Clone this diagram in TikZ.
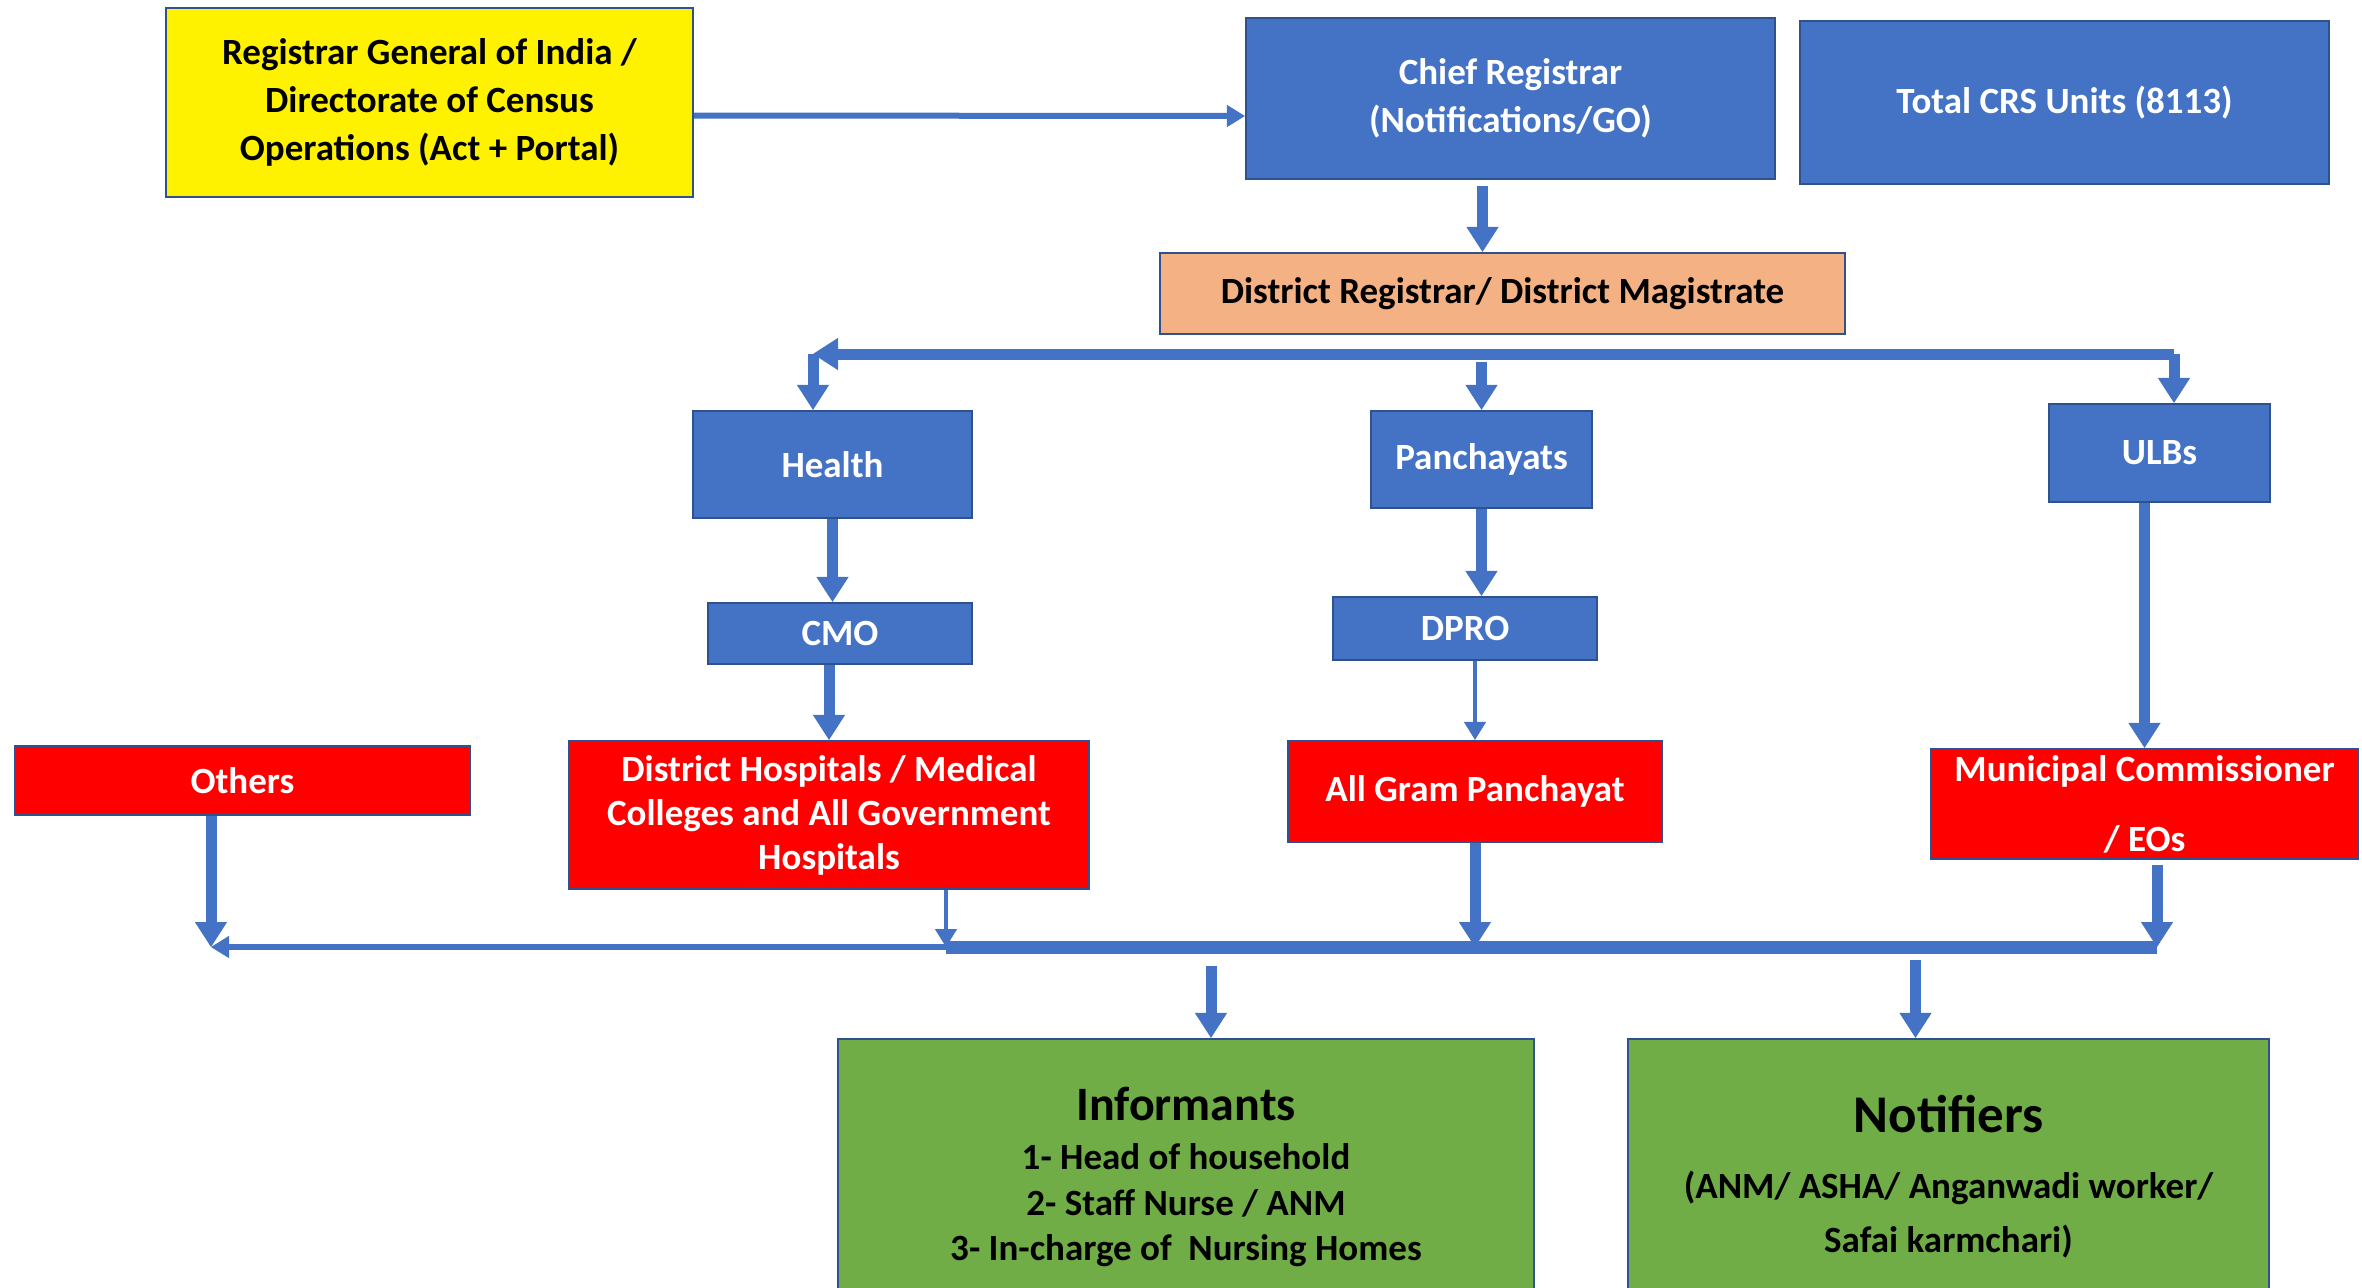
\documentclass[tikz,border=0pt]{standalone}
\usepackage{fontspec}
\setmainfont{Carlito}
\usepackage{tikz}
\usetikzlibrary{arrows.meta, calc}
\definecolor{boxblue}{HTML}{4472C4}
\definecolor{edgeblue}{HTML}{2F528F}
\definecolor{boxorange}{HTML}{F4B183}
\definecolor{boxgreen}{HTML}{70AD47}
\tikzstyle{box} = [rectangle, draw=edgeblue, line width=1.1pt, align=center, inner sep=2pt, font=\bfseries\fontsize{18.5}{24}\selectfont]
\tikzstyle{bluebox} = [box, fill=boxblue, text=white]
\tikzstyle{redbox} = [box, fill=red, text=white]
\tikzstyle{link} = [draw=boxblue, line width=5.5pt, -{Triangle[length=12.5pt,width=16pt,line width=0.6pt]}]
\tikzstyle{thinlink} = [draw=boxblue, line width=3pt, -{Triangle[length=9pt,width=11pt,line width=0.6pt]}]

\begin{document}
\begin{tikzpicture}[x=0.5pt, y=-0.5pt]
  \path[use as bounding box, clip] (0,0) rectangle (2362,1287);

  % Top row
  \node[box, fill=yellow, minimum width=263.5pt, minimum height=94.5pt] (rgi) at (429.5,102.5) {Registrar General of India /\\ Directorate of Census\\ Operations (Act + Portal)};
  \node[bluebox, minimum width=264.5pt, minimum height=80.5pt] (chief) at (1510.5,98.5) {Chief Registrar\\ (Notifications/GO)};
  \node[bluebox, minimum width=264.5pt, minimum height=81.5pt] (crs) at (2064.5,102.5) {Total CRS Units (8113)};
  \node[box, fill=boxorange, minimum width=342.5pt, minimum height=40.5pt] (dr) at (1502.5,293.5) {District Registrar/ District Magistrate};

  % Departments
  \node[bluebox, minimum width=139.5pt, minimum height=53.5pt] (health) at (832.5,464.5) {Health};
  \node[bluebox, minimum width=110.5pt, minimum height=48.5pt] (panch) at (1481.5,459.5) {Panchayats};
  \node[bluebox, minimum width=110.5pt, minimum height=49pt] (ulb) at (2159.5,453) {ULBs};
  \node[bluebox, minimum width=132pt, minimum height=30.5pt] (cmo) at (840,633.5) {CMO};
  \node[bluebox, minimum width=132pt, minimum height=31.5pt] (dpro) at (1465,628.5) {DPRO};

  % Offices
  \node[redbox, minimum width=227.5pt, minimum height=34.5pt] (others) at (242.5,780.5) {Others};
  \node[redbox, minimum width=260pt, minimum height=74pt, font=\bfseries\fontsize{18.5}{22}\selectfont] (hosp) at (829,815) {District Hospitals / Medical\\ Colleges and All Government\\ Hospitals};
  \node[redbox, minimum width=187pt, minimum height=50.5pt] (gram) at (1475,791.5) {All Gram Panchayat};
  \node[redbox, minimum width=213.5pt, minimum height=55pt, font=\bfseries\fontsize{18.5}{35}\selectfont] (munic) at (2144.5,804) {Municipal Commissioner\\ / EOs};

  % Informants and notifiers
  \node[box, fill=boxgreen, minimum width=348pt, minimum height=138pt, font=\bfseries\fontsize{18.5}{22.6}\selectfont] (inform) at (1186,1177) {{\fontsize{24}{28}\selectfont Informants}\\[2pt] 1- Head of household\\ 2- Staff Nurse / ANM\\ 3- In-charge of~ Nursing Homes};
  \node[box, fill=boxgreen, minimum width=320.5pt, minimum height=138pt, font=\bfseries\fontsize{18.5}{27}\selectfont] (notif) at (1948.5,1177) {{\fontsize{26.5}{30}\selectfont Notifiers}\\[6pt] (ANM/ ASHA/ Anganwadi worker/\\ Safai karmchari)};

  % Bus ends
  \coordinate (busL) at (813,354);
  \coordinate (busR) at (2174,354);
  \coordinate (botL) at (211,947);
  \coordinate (botM) at (946,947);
  \coordinate (botR) at (2157,947);

  % Upper links
  \draw[thinlink] ($(rgi.east)+(0,13)$) -- ($(chief.west)+(0,17.5)$);
  \draw[link] ($(chief.south)+(-28,6)$) -- ($(dr.north)+(-20,0)$);
  \draw[link] (busR) -- (busL);
  \draw[link] (busL) -- (busL |- health.north);
  \draw[link] ($(panch.north |- busL)+(0,8)$) -- (panch.north);
  \draw[link] (busR) -- (busR |- ulb.north);
  \draw[link] (health.south) -- (health.south |- cmo.north);
  \draw[link] (cmo.south -| hosp.north) -- (hosp.north);
  \draw[link] (panch.south) -- (panch.south |- dpro.north);
  \draw[thinlink, line width=2pt] (dpro.south -| gram.north) -- (gram.north);
  \draw[link] (ulb.south -| munic.north) -- (munic.north);

  % Lower links
  \draw[link] (botL |- others.south) -- (botL);
  \draw[thinlink, line width=2pt] (botM |- hosp.south) -- (botM);
  \draw[link] (gram.south) -- (gram.south |- botR);
  \draw[link] ($(botR |- munic.south)+(0,5)$) -- (botR);
  \draw[thinlink] (botM) -- (botL);
  \draw[boxblue, line width=6.5pt] (botR) -- (botM);
  \draw[link] ($(inform.north |- botR)+(25,19)$) -- ($(inform.north)+(25,0)$);
  \draw[link] ($(notif.north |- botR)+(-33,13)$) -- ($(notif.north)+(-33,0)$);
\end{tikzpicture}
\end{document}
